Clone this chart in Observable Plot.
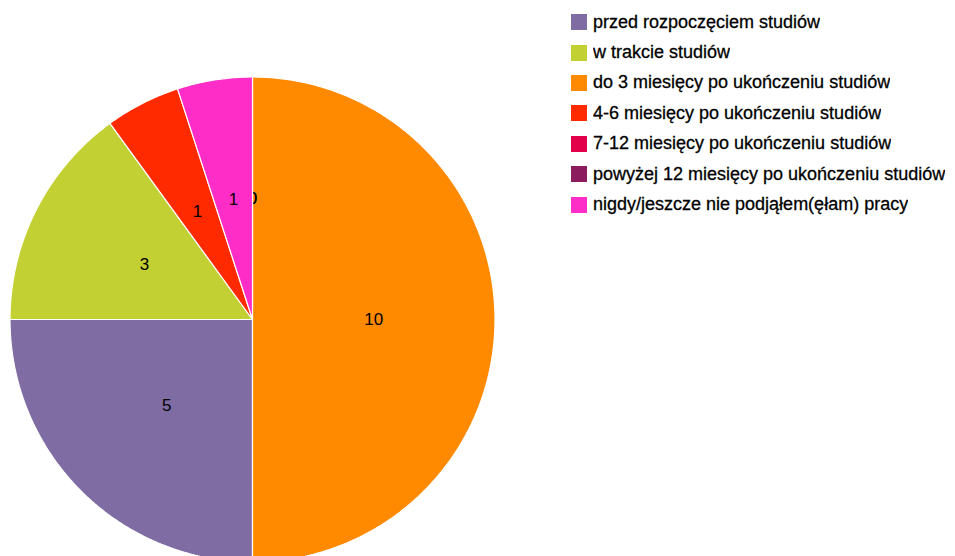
<!DOCTYPE html>
<html>
<head>
<meta charset="utf-8">
<script src="https://cdn.jsdelivr.net/npm/d3@7"></script>
<script src="https://cdn.jsdelivr.net/npm/@observablehq/plot@0.6"></script>
<style>
  html, body { margin: 0; padding: 0; background: #fff; }
  #wrap { position: relative; width: 955px; height: 556px; overflow: hidden; }
  #chart svg { display: block; }
  #legend { position: absolute; left: 571px; top: 7px; }
  .lg-swatches { margin: 0 !important; min-height: 0 !important; }
  .lg-swatch { height: 30.4px; display: flex; align-items: center; padding: 0 !important; margin: 0 !important; }
  .lg-swatch > svg { margin-right: 6px !important; }
  .lg-swatch-label { font: 18px Arial, "Liberation Sans", sans-serif; color: #000; white-space: nowrap; -webkit-text-stroke: 0.3px #000; }
</style>
</head>
<body>
<div id="wrap">
  <div id="chart"></div>
  <div id="legend"></div>
</div>
<script>
const categories = [
  "przed rozpoczęciem studiów",
  "w trakcie studiów",
  "do 3 miesięcy po ukończeniu studiów",
  "4-6 miesięcy po ukończeniu studiów",
  "7-12 miesięcy po ukończeniu studiów",
  "powyżej 12 miesięcy po ukończeniu studiów",
  "nigdy/jeszcze nie podjąłem(ęłam) pracy"
];
const values = [5, 3, 10, 1, 0, 0, 1];
const palette = ["#7e6ca2", "#c3d033", "#ff8a00", "#ff2a00", "#e2004b", "#8b1c5e", "#ff2dc8"];

// pie geometry from d3.pie (sorted by value, clockwise from top)
const arcs = d3.pie().value(d => d.value)(categories.map((c, i) => ({cat: c, value: values[i]})));
const slices = categories.map((c, i) => arcs.find(a => a.data.cat === c));

const outline = [];
const labels = [];
for (const a of slices) {
  const cat = a.data.cat;
  const mid = (a.startAngle + a.endAngle) / 2;
  labels.push({cat, x: 0.5 * Math.sin(mid), y: 0.5 * Math.cos(mid), text: String(a.data.value)});
  if (a.endAngle - a.startAngle <= 0) continue;
  const n = Math.max(2, Math.ceil((a.endAngle - a.startAngle) / (Math.PI / 360)));
  outline.push({cat, x: 0, y: 0});
  for (let k = 0; k <= n; ++k) {
    const t = a.startAngle + (a.endAngle - a.startAngle) * k / n;
    outline.push({cat, x: Math.sin(t), y: Math.cos(t)});
  }
  outline.push({cat, x: 0, y: 0});
}

const color = {type: "ordinal", domain: categories, range: palette};

const marks = categories.flatMap(c => [
  Plot.line(outline.filter(d => d.cat === c), {x: "x", y: "y", z: "cat", fill: "cat", stroke: "white", strokeWidth: 1.2, strokeLinejoin: "miter"}),
  Plot.text(labels.filter(d => d.cat === c), {x: "x", y: "y", text: "text", fill: "black", fontSize: 17, fontFamily: "Arial, 'Liberation Sans', sans-serif"})
]);

const plot = Plot.plot({
  width: 955,
  height: 556,
  margin: 0,
  x: {domain: [-1, 1], range: [9.5, 494.5], axis: null},
  y: {domain: [-1, 1], range: [561.5, 76.5], axis: null},
  color,
  marks
});
document.getElementById("chart").appendChild(plot);

const legend = Plot.legend({
  color,
  legend: "swatches",
  columns: 1,
  swatchSize: 16,
  className: "lg"
});
document.getElementById("legend").appendChild(legend);
</script>
</body>
</html>
